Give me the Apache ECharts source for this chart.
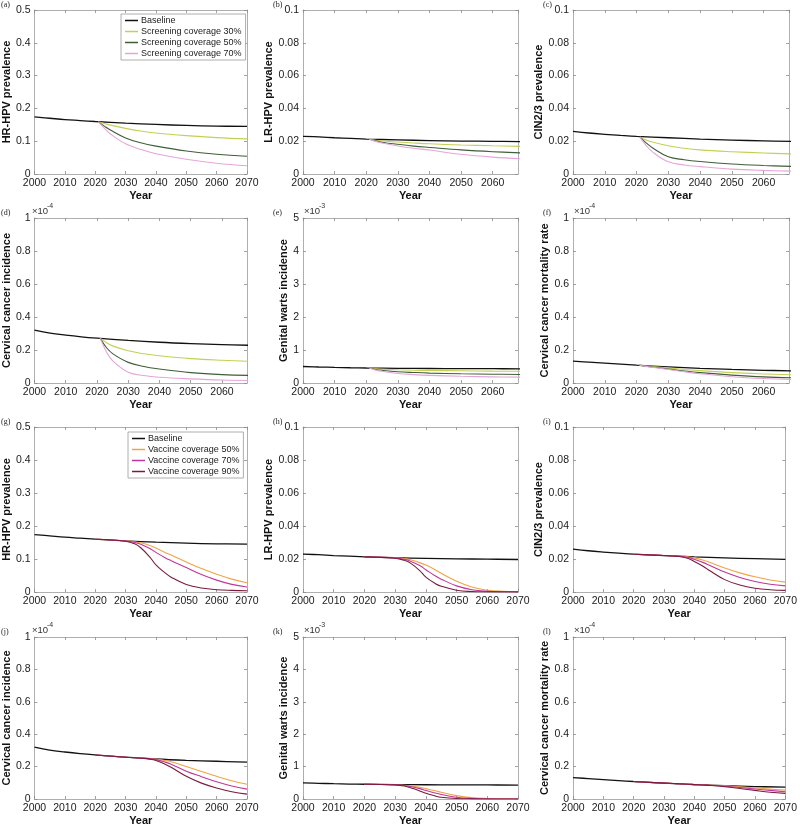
<!DOCTYPE html>
<html>
<head>
<meta charset="utf-8">
<script src="https://cdn.jsdelivr.net/npm/echarts@6/dist/echarts.min.js"></script>
<style>
html, body { margin: 0; padding: 0; background: #fff; }
#chart { width: 800px; height: 827px; }
</style>
</head>
<body>
<div id="chart"></div>
<script>
// years for the baseline curves
const baseYears = [2000, 2005, 2010, 2015, 2020, 2030, 2040, 2050, 2060, 2070]
// years for screening scenarios (start 2021) and vaccine scenarios
const scrYears = [2021, 2023, 2025, 2030, 2035, 2040, 2050, 2060, 2070]
const vacYears = [2020, 2030, 2033, 2035, 2038, 2040, 2043, 2045, 2050, 2055, 2060, 2065, 2070]

// baselines (cervical cancer / mortality in 1e-4, warts in 1e-3)
const hrBase = [0.174, 0.170, 0.166, 0.163, 0.160, 0.155, 0.151, 0.148, 0.146, 0.145]
const lrBase = [0.0230, 0.0226, 0.0221, 0.0217, 0.0213, 0.0208, 0.0204, 0.0201, 0.0199, 0.0197]
const cinBase = [0.0260, 0.0250, 0.0242, 0.0235, 0.0229, 0.0221, 0.0213, 0.0207, 0.0202, 0.0198]
const ccBase = [0.320, 0.302, 0.290, 0.280, 0.272, 0.258, 0.247, 0.239, 0.233, 0.228]
const gwBase = [0.500, 0.485, 0.472, 0.462, 0.455, 0.446, 0.440, 0.436, 0.433, 0.430]
const mortBase = [0.132, 0.126, 0.120, 0.114, 0.108, 0.098, 0.089, 0.082, 0.077, 0.073]

// screening coverage 30 / 50 / 70 %
const hrScr30 = [0.159, 0.154, 0.149, 0.139, 0.131, 0.125, 0.117, 0.111, 0.107]
const hrScr50 = [0.159, 0.146, 0.134, 0.110, 0.095, 0.085, 0.070, 0.060, 0.054]
const hrScr70 = [0.159, 0.140, 0.122, 0.092, 0.075, 0.062, 0.045, 0.033, 0.025]
const lrScr30 = [0.0212, 0.0206, 0.0201, 0.0195, 0.0189, 0.0184, 0.0177, 0.0172, 0.0168]
const lrScr50 = [0.0212, 0.0202, 0.0194, 0.0181, 0.0170, 0.0162, 0.0147, 0.0136, 0.0128]
const lrScr70 = [0.0212, 0.0199, 0.0189, 0.0171, 0.0157, 0.0146, 0.0120, 0.0103, 0.0092]
const cinScr30 = [0.0226, 0.0208, 0.0195, 0.0172, 0.0157, 0.0147, 0.0136, 0.0128, 0.0122]
const cinScr50 = [0.0226, 0.0190, 0.0160, 0.0105, 0.0087, 0.0076, 0.0061, 0.0052, 0.0046]
const cinScr70 = [0.0226, 0.0175, 0.0135, 0.0074, 0.0055, 0.0045, 0.0030, 0.0022, 0.0017]
const ccScr30 = [0.272, 0.245, 0.225, 0.195, 0.177, 0.165, 0.148, 0.138, 0.131]
const ccScr50 = [0.272, 0.215, 0.178, 0.125, 0.100, 0.085, 0.063, 0.051, 0.046]
const ccScr70 = [0.272, 0.190, 0.135, 0.065, 0.045, 0.035, 0.025, 0.018, 0.015]
const gwScr30 = [0.452, 0.430, 0.418, 0.400, 0.388, 0.380, 0.370, 0.360, 0.354]
const gwScr50 = [0.452, 0.410, 0.385, 0.342, 0.318, 0.300, 0.280, 0.266, 0.259]
const gwScr70 = [0.452, 0.390, 0.355, 0.290, 0.255, 0.232, 0.203, 0.186, 0.178]
const mortScr30 = [0.107, 0.104, 0.100, 0.090, 0.082, 0.075, 0.063, 0.055, 0.049]
const mortScr50 = [0.107, 0.102, 0.097, 0.085, 0.073, 0.063, 0.048, 0.037, 0.031]
const mortScr70 = [0.107, 0.101, 0.095, 0.082, 0.068, 0.056, 0.038, 0.027, 0.021]

// vaccine coverage 50 / 70 / 90 %
const hrVac50 = [0.160, 0.155, 0.152, 0.149, 0.141, 0.133, 0.120, 0.112, 0.091, 0.071, 0.054, 0.039, 0.028]
const hrVac70 = [0.160, 0.155, 0.150, 0.145, 0.132, 0.120, 0.104, 0.095, 0.074, 0.053, 0.036, 0.023, 0.015]
const hrVac90 = [0.160, 0.154, 0.146, 0.134, 0.106, 0.082, 0.058, 0.045, 0.023, 0.012, 0.007, 0.005, 0.004]
const lrVac50 = [0.0213, 0.0207, 0.0202, 0.0195, 0.0178, 0.0163, 0.0135, 0.0113, 0.0065, 0.0030, 0.0011, 0.0004, 0.0001]
const lrVac70 = [0.0213, 0.0206, 0.0198, 0.0187, 0.0160, 0.0135, 0.0098, 0.0078, 0.0037, 0.0014, 0.0005, 0.0002, 0.0001]
const lrVac90 = [0.0213, 0.0205, 0.0192, 0.0175, 0.0130, 0.0090, 0.0052, 0.0035, 0.0011, 0.0003, 0.0001, 0.0000, 0.0000]
const cinVac50 = [0.0229, 0.0221, 0.0219, 0.0218, 0.0214, 0.0207, 0.0193, 0.0180, 0.0146, 0.0116, 0.0092, 0.0073, 0.0060]
const cinVac70 = [0.0229, 0.0221, 0.0218, 0.0217, 0.0210, 0.0198, 0.0178, 0.0162, 0.0121, 0.0088, 0.0064, 0.0047, 0.0037]
const cinVac90 = [0.0229, 0.0221, 0.0218, 0.0215, 0.0203, 0.0185, 0.0155, 0.0130, 0.0075, 0.0042, 0.0023, 0.0014, 0.0010]
const ccVac50 = [0.272, 0.258, 0.255, 0.253, 0.250, 0.246, 0.238, 0.230, 0.200, 0.170, 0.140, 0.113, 0.091]
const ccVac70 = [0.272, 0.258, 0.255, 0.253, 0.249, 0.243, 0.228, 0.215, 0.172, 0.138, 0.106, 0.080, 0.061]
const ccVac90 = [0.272, 0.258, 0.255, 0.252, 0.246, 0.238, 0.215, 0.196, 0.140, 0.098, 0.068, 0.045, 0.030]
const gwVac50 = [0.455, 0.440, 0.425, 0.405, 0.360, 0.320, 0.255, 0.210, 0.105, 0.042, 0.016, 0.006, 0.002]
const gwVac70 = [0.455, 0.438, 0.415, 0.385, 0.320, 0.265, 0.185, 0.140, 0.055, 0.017, 0.005, 0.001, 0.000]
const gwVac90 = [0.455, 0.435, 0.400, 0.345, 0.250, 0.175, 0.095, 0.055, 0.015, 0.004, 0.001, 0.000, 0.000]
const mortVac50 = [0.108, 0.098, 0.096, 0.094, 0.091, 0.089, 0.087, 0.086, 0.081, 0.075, 0.068, 0.061, 0.055]
const mortVac70 = [0.108, 0.098, 0.096, 0.094, 0.091, 0.089, 0.086, 0.085, 0.079, 0.071, 0.062, 0.053, 0.045]
const mortVac90 = [0.108, 0.098, 0.096, 0.094, 0.091, 0.089, 0.086, 0.084, 0.076, 0.065, 0.053, 0.042, 0.035]

const scrNames = ['Screening coverage 30%', 'Screening coverage 50%', 'Screening coverage 70%']
const vacNames = ['Vaccine coverage 50%', 'Vaccine coverage 70%', 'Vaccine coverage 90%']
const scrColors = ['#c3d053', '#3e5e37', '#e5a5d8']
const vacColors = ['#f0a445', '#c0369a', '#7c1a3c']

// layout of the 4x3 grid
const colLeft = [31, 303, 573]
const colWidth = [216, 215, 216]
const rowTop = [10, 218, 427, 637]
const rowHeight = [164, 165, 165, 164]
const font = 'Liberation Sans, Arial, Helvetica, sans-serif'

const panels = [
  { tag: '(a)', row: 0, col: 0, label: 'HR-HPV prevalence', max: 0.5, step: 0.1, xMax: 2070, gap: 17, base: hrBase, runs: [hrScr30, hrScr50, hrScr70], vac: false },
  { tag: '(b)', row: 0, col: 1, label: 'LR-HPV prevalence', max: 0.1, step: 0.02, xMax: 2068, gap: 23, base: lrBase, runs: [lrScr30, lrScr50, lrScr70], vac: false },
  { tag: '(c)', row: 0, col: 2, label: 'CIN2/3 prevalence', max: 0.1, step: 0.02, xMax: 2068, gap: 21, base: cinBase, runs: [cinScr30, cinScr50, cinScr70], vac: false },
  { tag: '(d)', row: 1, col: 0, label: 'Cervical cancer incidence', max: 1, step: 0.2, xMax: 2068, gap: 17, exp: '-4', base: ccBase, runs: [ccScr30, ccScr50, ccScr70], vac: false },
  { tag: '(e)', row: 1, col: 1, label: 'Genital warts incidence', max: 5, step: 1, xMax: 2068, gap: 11, exp: '-3', base: gwBase, runs: [gwScr30, gwScr50, gwScr70], vac: false },
  { tag: '(f)', row: 1, col: 2, label: 'Cervical cancer mortality rate', max: 1, step: 0.2, xMax: 2068, gap: 19, exp: '-4', base: mortBase, runs: [mortScr30, mortScr50, mortScr70], vac: false },
  { tag: '(g)', row: 2, col: 0, label: 'HR-HPV prevalence', max: 0.5, step: 0.1, xMax: 2070, gap: 17, base: hrBase, runs: [hrVac50, hrVac70, hrVac90], vac: true },
  { tag: '(h)', row: 2, col: 1, label: 'LR-HPV prevalence', max: 0.1, step: 0.02, xMax: 2070, gap: 23, base: lrBase, runs: [lrVac50, lrVac70, lrVac90], vac: true },
  { tag: '(i)', row: 2, col: 2, label: 'CIN2/3 prevalence', max: 0.1, step: 0.02, xMax: 2070, gap: 21, base: cinBase, runs: [cinVac50, cinVac70, cinVac90], vac: true },
  { tag: '(j)', row: 3, col: 0, label: 'Cervical cancer incidence', max: 1, step: 0.2, xMax: 2070, gap: 17, exp: '-4', base: ccBase, runs: [ccVac50, ccVac70, ccVac90], vac: true },
  { tag: '(k)', row: 3, col: 1, label: 'Genital warts incidence', max: 5, step: 1, xMax: 2070, gap: 11, exp: '-3', base: gwBase, runs: [gwVac50, gwVac70, gwVac90], vac: true },
  { tag: '(l)', row: 3, col: 2, label: 'Cervical cancer mortality rate', max: 1, step: 0.2, xMax: 2070, gap: 19, exp: '-4', base: mortBase, runs: [mortVac50, mortVac70, mortVac90], vac: true }
]

function pairs(xs, ys) {
  return xs.map((x, i) => [x, ys[i]])
}

const frame = { show: true, onZero: false, lineStyle: { color: '#9a9a9a', width: 0.8 } }
const tick = { show: true, inside: true, length: 3, lineStyle: { color: '#8a8a8a', width: 0.8 } }

const grid = []
const xAxis = []
const yAxis = []
const series = []
const graphic = []

panels.forEach((p, i) => {
  const left = colLeft[p.col]
  const top = rowTop[p.row]
  grid.push({ left: left, top: top, width: colWidth[p.col], height: rowHeight[p.row], containLabel: false })
  const xs = { type: 'value', gridIndex: i, min: 2000, max: p.xMax, interval: 10, splitLine: { show: false } }
  xAxis.push(Object.assign({}, xs, {
    position: 'bottom',
    axisLine: frame, axisTick: tick,
    axisLabel: {
      show: true, margin: 4, fontSize: 10.5, color: '#1a1a1a', fontFamily: font,
      showMaxLabel: p.xMax === 2070,
      formatter: function (v) { return String(v) }
    },
    name: 'Year', nameLocation: 'middle', nameGap: 16,
    nameTextStyle: { fontSize: 11, fontWeight: 'bold', color: '#111', fontFamily: font }
  }))
  xAxis.push(Object.assign({}, xs, {
    position: 'top', axisLine: frame, axisTick: tick, axisLabel: { show: false }
  }))
  const ys = { type: 'value', gridIndex: i, min: 0, max: p.max, interval: p.step, splitLine: { show: false } }
  yAxis.push(Object.assign({}, ys, {
    position: 'left',
    axisLine: frame, axisTick: tick,
    axisLabel: { show: true, margin: 4, fontSize: 10.5, color: '#1a1a1a', fontFamily: font },
    name: p.label, nameLocation: 'middle', nameGap: p.gap,
    nameTextStyle: { fontSize: 11, fontWeight: 'bold', color: '#111', fontFamily: font }
  }))
  yAxis.push(Object.assign({}, ys, {
    position: 'right', axisLine: frame, axisTick: tick, axisLabel: { show: false }
  }))

  series.push({
    name: 'Baseline', type: 'line', xAxisIndex: 2 * i, yAxisIndex: 2 * i,
    data: pairs(baseYears, p.base), symbol: 'none', smooth: 0.4,
    lineStyle: { color: '#111', width: 1.3 }, itemStyle: { color: '#111' }, z: 2
  })
  const names = p.vac ? vacNames : scrNames
  const colors = p.vac ? vacColors : scrColors
  const yrs = p.vac ? vacYears : scrYears
  p.runs.forEach((run, k) => {
    series.push({
      name: names[k], type: 'line', xAxisIndex: 2 * i, yAxisIndex: 2 * i,
      data: pairs(yrs, run), symbol: 'none', smooth: 0.4,
      lineStyle: { color: colors[k], width: 1.1 }, itemStyle: { color: colors[k] }, z: 3 + k
    })
  })

  graphic.push({
    type: 'text', left: left - 30, top: top - 9,
    style: { text: p.tag, font: '8px "Liberation Serif", "DejaVu Serif", serif', fill: '#222' }
  })
  if (p.exp) {
    graphic.push({
      type: 'text', left: left + 1, top: top - 12,
      style: { text: '×10', font: '9.5px ' + font, fill: '#333' }
    })
    graphic.push({
      type: 'text', left: left + 16, top: top - 15,
      style: { text: p.exp, font: '7px ' + font, fill: '#333' }
    })
  }
})

const legendBase = {
  orient: 'vertical', icon: 'rect', itemWidth: 13, itemHeight: 1.5, itemGap: 2,
  padding: [2, 4], backgroundColor: '#fff', borderColor: '#999', borderWidth: 0.8,
  textStyle: { fontSize: 9, color: '#222', fontFamily: font, padding: [0, 0, 0, -2] }, selectedMode: false
}

const option = {
  animation: false,
  backgroundColor: '#fff',
  grid: grid,
  xAxis: xAxis,
  yAxis: yAxis,
  series: series,
  graphic: graphic,
  legend: [
    Object.assign({}, legendBase, { left: 121, top: 14, data: ['Baseline'].concat(scrNames) }),
    Object.assign({}, legendBase, { left: 128, top: 432, data: ['Baseline'].concat(vacNames) })
  ]
}

const myChart = echarts.init(document.getElementById('chart'))
myChart.setOption(option)
</script>
</body>
</html>
